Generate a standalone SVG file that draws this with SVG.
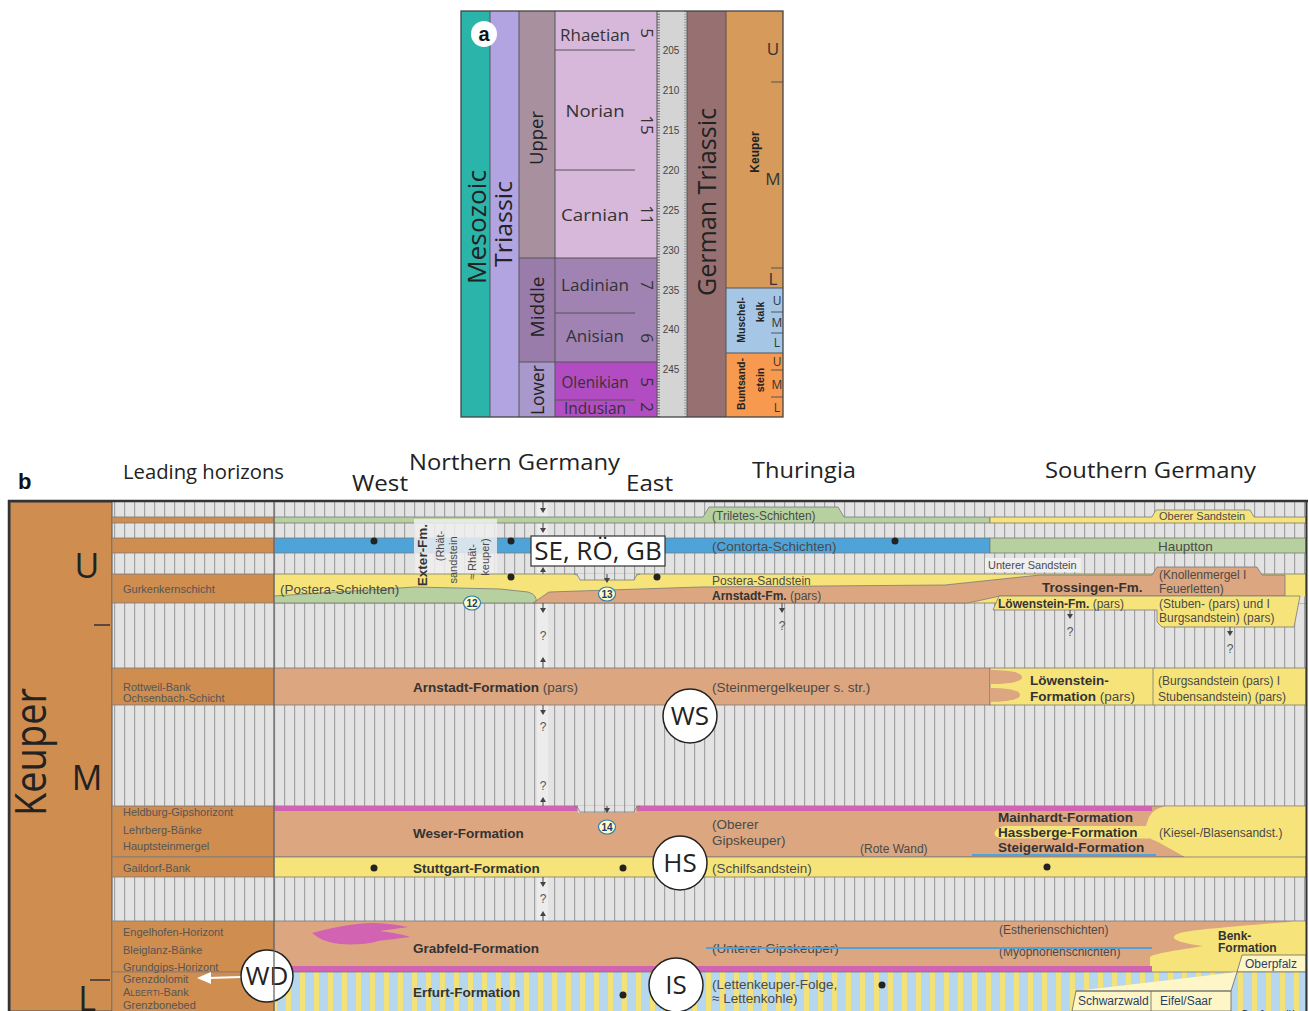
<svg xmlns="http://www.w3.org/2000/svg" width="1309" height="1011" viewBox="0 0 1309 1011">
<defs>
<pattern id="hatch" width="10" height="10" patternUnits="userSpaceOnUse">
<rect width="10" height="10" fill="#e3e3e3"/>
<rect x="4" width="1.2" height="10" fill="#a2a2a2"/>
</pattern>
<pattern id="stripes" width="14" height="10" patternUnits="userSpaceOnUse">
<rect width="14" height="10" fill="#b5d8ef"/>
<rect x="6" width="5" height="10" fill="#f3e27a"/>
</pattern>
</defs>
<style>
.ttl{font-family:"Open Sans","Noto Sans",sans-serif;fill:#222}
.lh{font-family:"Liberation Sans",Arial,sans-serif;font-size:11px;fill:#555}
.f{font-family:"Liberation Sans",Arial,sans-serif;font-size:13.5px;fill:#4a4a4a}
.s{font-size:12px}
.xs{font-size:11px}
.b{font-weight:bold;fill:#333}
.band{stroke:#7a7a7a;stroke-width:0.8}
.yel{fill:#f6e47a}
.brn{fill:#dca680}
.grn{fill:#b7d0a0}
.blu{fill:#4ea4d9}
.pnk{fill:#d263b2}
.org{fill:#cf8d50}
.q{font-family:"Liberation Sans",Arial,sans-serif;font-size:12px;fill:#555;text-anchor:middle}
.circ{fill:#fff;stroke:#222;stroke-width:1.5}
.ct{font-family:"Open Sans","Noto Sans",sans-serif;font-size:26px;fill:#222;text-anchor:middle}
.num{fill:#fffbc4;stroke:#2a80b8;stroke-width:1.2}
.numt{font-family:"Liberation Sans",Arial,sans-serif;font-size:10px;fill:#1a3a6a;text-anchor:middle;font-weight:bold}
.dot{fill:#222}
.arr{fill:#444}
.al{stroke:#444;stroke-width:1}
.sep{stroke:#555;stroke-width:1;fill:none}
.stage{font-family:"Open Sans","Noto Sans",sans-serif;font-size:17px;fill:#333;text-anchor:middle}
.age{font-family:"Liberation Sans",Arial,sans-serif;font-size:10px;fill:#444;text-anchor:middle}
.box{fill:#fff6c8;stroke:#666;stroke-width:0.8}
.boxt{font-family:"Liberation Sans",Arial,sans-serif;font-size:12px;fill:#2a3f66}
</style>
<rect width="1309" height="1011" fill="#ffffff"/>

<!-- ================= PANEL A ================= -->
<g id="panel-a">
<rect x="461" y="11" width="29" height="406" fill="#2bb5aa"/>
<rect x="490" y="11" width="29" height="406" fill="#b2a4e0"/>
<rect x="519" y="11" width="36" height="247" fill="#a8909e"/>
<rect x="519" y="258" width="36" height="104" fill="#9a7cab"/>
<rect x="519" y="362" width="36" height="55" fill="#a898cc"/>
<rect x="555" y="11" width="102" height="247" fill="#d8b8da"/>
<rect x="555" y="258" width="102" height="104" fill="#a083b3"/>
<rect x="555" y="362" width="102" height="55" fill="#b24cc2"/>
<rect x="657" y="11" width="30" height="406" fill="#d4d4d4"/>
<rect x="687" y="11" width="39" height="406" fill="#977171"/>
<rect x="726" y="11" width="57" height="277" fill="#d69a5a"/>
<rect x="726" y="288" width="57" height="65" fill="#a6c6e6"/>
<rect x="726" y="353" width="57" height="64" fill="#f79a50"/>
<line x1="658.5" y1="11" x2="658.5" y2="417" stroke="#777" stroke-width="3" stroke-dasharray="1 1.7"/>
<line x1="685" y1="11" x2="685" y2="417" stroke="#999" stroke-width="2" stroke-dasharray="1 1.7"/>
<g class="sep">
<line x1="490" y1="11" x2="490" y2="417"/>
<line x1="519" y1="11" x2="519" y2="417"/>
<line x1="555" y1="11" x2="555" y2="417"/>
<line x1="657" y1="11" x2="657" y2="417"/>
<line x1="687" y1="11" x2="687" y2="417"/>
<line x1="726" y1="11" x2="726" y2="417"/>
<line x1="519" y1="258" x2="657" y2="258"/>
<line x1="519" y1="362" x2="657" y2="362"/>
<line x1="555" y1="50" x2="635" y2="50"/>
<line x1="555" y1="170" x2="635" y2="170"/>
<line x1="555" y1="313" x2="635" y2="313"/>
<line x1="555" y1="400" x2="635" y2="400"/>
<line x1="726" y1="288" x2="783" y2="288"/>
<line x1="726" y1="353" x2="783" y2="353"/>
<line x1="771" y1="82" x2="783" y2="82"/>
<line x1="771" y1="268" x2="783" y2="268"/>
<line x1="771" y1="312" x2="783" y2="312"/>
<line x1="771" y1="333" x2="783" y2="333"/>
<line x1="771" y1="370" x2="783" y2="370"/>
<line x1="771" y1="397" x2="783" y2="397"/>
</g>
<rect x="461" y="11" width="322" height="406" fill="none" stroke="#444" stroke-width="1.3"/>
<circle cx="484" cy="34" r="13" fill="#fff"/>
<text x="484" y="41" text-anchor="middle" font-family="Liberation Sans, Arial, sans-serif" font-weight="bold" font-size="20" fill="#111">a</text>
<text class="ttl" transform="translate(486,227) rotate(-90)" text-anchor="middle" font-size="25" textLength="114" lengthAdjust="spacingAndGlyphs">Mesozoic</text>
<text class="ttl" transform="translate(512,224) rotate(-90)" text-anchor="middle" font-size="24" textLength="86" lengthAdjust="spacingAndGlyphs">Triassic</text>
<text class="ttl" transform="translate(543,138) rotate(-90)" text-anchor="middle" font-size="19" fill="#333" textLength="54" lengthAdjust="spacingAndGlyphs">Upper</text>
<text class="ttl" transform="translate(544,307) rotate(-90)" text-anchor="middle" font-size="19" fill="#333" textLength="61" lengthAdjust="spacingAndGlyphs">Middle</text>
<text class="ttl" transform="translate(544,390) rotate(-90)" text-anchor="middle" font-size="19" fill="#333" textLength="50" lengthAdjust="spacingAndGlyphs">Lower</text>
<text class="stage" x="595" y="41" textLength="70" lengthAdjust="spacingAndGlyphs">Rhaetian</text>
<text class="stage" x="595" y="117" font-size="18" textLength="59" lengthAdjust="spacingAndGlyphs">Norian</text>
<text class="stage" x="595" y="221" textLength="68" lengthAdjust="spacingAndGlyphs">Carnian</text>
<text class="stage" x="595" y="291" textLength="68" lengthAdjust="spacingAndGlyphs">Ladinian</text>
<text class="stage" x="595" y="342" textLength="58" lengthAdjust="spacingAndGlyphs">Anisian</text>
<text class="stage" x="595" y="388" textLength="67" lengthAdjust="spacingAndGlyphs">Olenikian</text>
<text class="stage" x="595" y="414" textLength="62" lengthAdjust="spacingAndGlyphs">Indusian</text>
<g class="stage" font-size="15">
<text transform="translate(641,33) rotate(90)">5</text>
<text transform="translate(641,125) rotate(90)">15</text>
<text transform="translate(641,215) rotate(90)">11</text>
<text transform="translate(641,285) rotate(90)">7</text>
<text transform="translate(641,338) rotate(90)">6</text>
<text transform="translate(641,382) rotate(90)">5</text>
<text transform="translate(641,407) rotate(90)">2</text>
</g>
<g class="age">
<text x="671" y="54">205</text>
<text x="671" y="94">210</text>
<text x="671" y="134">215</text>
<text x="671" y="174">220</text>
<text x="671" y="214">225</text>
<text x="671" y="254">230</text>
<text x="671" y="294">235</text>
<text x="671" y="333">240</text>
<text x="671" y="373">245</text>
</g>
<text class="ttl" transform="translate(716,202) rotate(-90)" text-anchor="middle" font-size="26" fill="#222" textLength="188" lengthAdjust="spacingAndGlyphs">German Triassic</text>
<text transform="translate(759,152) rotate(-90)" text-anchor="middle" font-family="Liberation Sans, Arial, sans-serif" font-weight="bold" font-size="12" fill="#222">Keuper</text>
<g font-family="Open Sans, Noto Sans, sans-serif" font-size="17" fill="#333" text-anchor="middle">
<text x="773" y="55">U</text>
<text x="773" y="185">M</text>
<text x="773" y="285">L</text>
</g>
<g font-family="Liberation Sans, Arial, sans-serif" font-weight="bold" font-size="10.5" fill="#222" text-anchor="middle">
<text transform="translate(745,320) rotate(-90)">Muschel-</text>
<text transform="translate(764,312) rotate(-90)">kalk</text>
<text transform="translate(745,384) rotate(-90)">Buntsand-</text>
<text transform="translate(764,380) rotate(-90)">stein</text>
</g>
<g font-family="Open Sans, Noto Sans, sans-serif" font-size="12" fill="#333" text-anchor="middle">
<text x="777" y="305">U</text>
<text x="777" y="327">M</text>
<text x="777" y="347">L</text>
<text x="777" y="366">U</text>
<text x="777" y="389">M</text>
<text x="777" y="412">L</text>
</g>
</g>

<!-- ================= PANEL B HEADER ================= -->
<g id="panel-b-header" class="ttl">
<text x="18" y="489" font-family="Liberation Sans, Arial, sans-serif" font-weight="bold" font-size="22" fill="#111">b</text>
<text x="123" y="479" font-size="20" textLength="161" lengthAdjust="spacingAndGlyphs">Leading horizons</text>
<text x="352" y="491" font-size="22" textLength="56" lengthAdjust="spacingAndGlyphs">West</text>
<text x="409" y="470" font-size="22" textLength="211" lengthAdjust="spacingAndGlyphs">Northern Germany</text>
<text x="626" y="491" font-size="22" textLength="47" lengthAdjust="spacingAndGlyphs">East</text>
<text x="752" y="478" font-size="22" textLength="104" lengthAdjust="spacingAndGlyphs">Thuringia</text>
<text x="1045" y="478" font-size="22" textLength="211" lengthAdjust="spacingAndGlyphs">Southern Germany</text>
</g>

<!-- ================= PANEL B BODY ================= -->
<g id="background">
<rect x="112" y="502" width="1194" height="509" fill="url(#hatch)"/>
<rect x="537" y="502" width="11" height="419" fill="#ececec"/>
</g>

<g id="keuper-column">
<rect x="10" y="502" width="102" height="509" class="org" stroke="#555" stroke-width="1"/>
<text class="ttl" transform="translate(46,752) rotate(-90)" text-anchor="middle" font-size="44" textLength="128" lengthAdjust="spacingAndGlyphs">Keuper</text>
<text class="ttl" x="87" y="578" text-anchor="middle" font-size="34">U</text>
<text class="ttl" x="87" y="790" text-anchor="middle" font-size="34">M</text>
<text class="ttl" x="87" y="1011" text-anchor="middle" font-size="34">L</text>
<line x1="94" y1="625" x2="110" y2="625" stroke="#333" stroke-width="1.5"/>
<line x1="90" y1="980" x2="110" y2="980" stroke="#333" stroke-width="1.5"/>
</g>

<g id="leading-horizons">
<g class="org band">
<rect x="112" y="517" width="162" height="6"/>
<rect x="112" y="538" width="162" height="15"/>
<rect x="112" y="574" width="162" height="29"/>
<rect x="112" y="668" width="162" height="37"/>
<rect x="112" y="806" width="162" height="51"/>
<rect x="112" y="857" width="162" height="20"/>
<rect x="112" y="921" width="162" height="51"/>
<rect x="112" y="972" width="162" height="45"/>
</g>
<text class="lh" x="123" y="593">Gurkenkernschicht</text>
<text class="lh" x="123" y="691">Rottweil-Bank</text>
<text class="lh" x="123" y="702">Ochsenbach-Schicht</text>
<text class="lh" x="123" y="816">Heldburg-Gipshorizont</text>
<text class="lh" x="123" y="834">Lehrberg-Bänke</text>
<text class="lh" x="123" y="850">Hauptsteinmergel</text>
<text class="lh" x="123" y="872">Gaildorf-Bank</text>
<text class="lh" x="123" y="936">Engelhofen-Horizont</text>
<text class="lh" x="123" y="954">Bleiglanz-Bänke</text>
<text class="lh" x="123" y="971">Grundgips-Horizont</text>
<text class="lh" x="123" y="983">Grenzdolomit</text>
<text class="lh" x="123" y="996">A<tspan font-size="8.5">LBERTI</tspan>-Bank</text>
<text class="lh" x="123" y="1009">Grenzbonebed</text>
</g>

<g id="rhaet-rows">
<path class="grn band" d="M274,517 H703 L709,507 H838 L844,517 H990 V523 H274 Z"/>
<path class="yel band" d="M990,517 H1152 L1156,510 H1250 L1254,517 H1306 V523 H990 Z"/>
<rect class="blu band" x="274" y="538" width="716" height="15"/>
<rect class="grn band" x="990" y="538" width="316" height="15"/>
<rect x="414" y="519" width="83" height="70" fill="#efefef" opacity="0.85"/>
<text class="f s" x="712" y="520">(Triletes-Schichten)</text>
<text class="f xs" x="1159" y="520">Oberer Sandstein</text>
<text class="f" x="712" y="551">(Contorta-Schichten)</text>
<text class="f" x="1158" y="551">Hauptton</text>
<rect x="985" y="558" width="96" height="14" fill="#efefef"/>
<text class="f xs" x="988" y="569">Unterer Sandstein</text>
</g>

<g id="postera-row">
<rect class="yel band" x="274" y="574" width="1032" height="29"/>
<rect x="578" y="573.5" width="58" height="6.5" fill="url(#hatch)"/>
<path d="M574,574 Q578,574 579,578 L580,580 H634 L635,578 Q636,574 640,574" fill="none" stroke="#7a7a7a" stroke-width="0.8"/>
<path class="grn band" d="M274,596 L415,587 L500,589 L528,592 Q538,595 536,603 H274 Z"/>
<path class="brn band" d="M533,603 L549,592 L700,587 L945,585 L1040,575 H1152 L1157,567 H1257 L1262,575 H1285 V596 H1000 L968,603 Z"/>
<rect x="1296" y="596.5" width="10" height="6.5" fill="url(#hatch)"/>
<path class="yel band" d="M993,610 L999,596 H1300 L1294,627 H1162 L1157,622 V610 Z"/>
<text class="f" x="280" y="594">(Postera-Schichten)</text>
<text class="f b" transform="translate(427,555) rotate(-90)" text-anchor="middle" font-size="12.5">Exter-Fm.</text>
<g class="f xs" text-anchor="middle">
<text transform="translate(444,546) rotate(-90)">(Rhät-</text>
<text transform="translate(457,560) rotate(-90)">sandstein</text>
<text transform="translate(476,562) rotate(-90)">≈ Rhät-</text>
<text transform="translate(489,557) rotate(-90)">keuper)</text>
</g>
<text class="f s" x="712" y="585">Postera-Sandstein</text>
<text class="f s" x="712" y="600"><tspan class="b">Arnstadt-Fm.</tspan> (pars)</text>
<text class="f b" x="1042" y="592" font-size="14">Trossingen-Fm.</text>
<text class="f s" x="1159" y="579">(Knollenmergel I</text>
<text class="f s" x="1159" y="593">Feuerletten)</text>
<text class="f s" x="998" y="608"><tspan class="b">Löwenstein-Fm.</tspan> (pars)</text>
<text class="f s" x="1159" y="608">(Stuben- (pars) und I</text>
<text class="f s" x="1159" y="622">Burgsandstein) (pars)</text>
</g>

<g id="arnstadt-row">
<rect class="brn band" x="274" y="668" width="716" height="37"/>
<rect class="yel band" x="990" y="668" width="316" height="37"/>
<path class="brn" d="M990,670 C1008,670 1022,672 1022,677 C1022,682 1008,684 990,684 Z"/>
<path class="brn" d="M990,688 C1008,688 1020,690 1020,695 C1020,700 1005,702 990,702 Z"/>
<line x1="1153" y1="668" x2="1153" y2="705" stroke="#7a7a7a" stroke-width="0.8"/>
<text class="f" x="413" y="692"><tspan class="b">Arnstadt-Formation</tspan> (pars)</text>
<text class="f" x="712" y="692">(Steinmergelkeuper s. str.)</text>
<text class="f b" x="1030" y="685">Löwenstein-</text>
<text class="f" x="1030" y="701"><tspan class="b">Formation</tspan> (pars)</text>
<text class="f s" x="1158" y="685">(Burgsandstein (pars) I</text>
<text class="f s" x="1158" y="701">Stubensandstein) (pars)</text>
</g>

<g id="weser-row">
<rect class="brn band" x="274" y="806" width="1032" height="51"/>
<rect class="pnk" x="274" y="806" width="303" height="5"/>
<rect class="pnk" x="637" y="806" width="515" height="5"/>
<rect x="578" y="805.5" width="58" height="7" fill="url(#hatch)"/>
<path d="M574,806 Q578,806 579,810 L580,812 H634 L635,810 Q636,806 640,806" fill="none" stroke="#7a7a7a" stroke-width="0.8"/>
<path class="yel" d="M1165,806.5 H1306 V857 H1185 L1158,842 L1150,838.5 H1002 Q993,837 995,832 Q997,827 1005,826 H1146 L1149,817 Q1154,808 1165,806.5 Z"/>
<line x1="972" y1="855" x2="1156" y2="855" stroke="#4ea4d9" stroke-width="2"/>
<text class="f b" x="413" y="838">Weser-Formation</text>
<text class="f" x="712" y="829">(Oberer</text>
<text class="f" x="712" y="845">Gipskeuper)</text>
<text class="f s" x="860" y="853">(Rote Wand)</text>
<text class="f b" x="998" y="822">Mainhardt-Formation</text>
<text class="f b" x="998" y="837">Hassberge-Formation</text>
<text class="f b" x="998" y="852">Steigerwald-Formation</text>
<text class="f s" x="1159" y="837">(Kiesel-/Blasensandst.)</text>
</g>

<g id="stuttgart-row">
<rect class="yel band" x="274" y="857" width="1032" height="20"/>
<text class="f b" x="413" y="873">Stuttgart-Formation</text>
<text class="f" x="712" y="873">(Schilfsandstein)</text>
</g>

<g id="grabfeld-row">
<rect class="brn band" x="274" y="921" width="1032" height="51"/>
<path class="yel" d="M1306,921.5 H1294 C1240,926 1190,930 1180,933 C1168,937 1172,942 1203,946 C1180,950 1155,953 1150,957 V972 H1306 Z"/>
<path class="pnk" d="M312,933 C330,928 350,924 370,923 C385,923 398,925 408,927 C395,929 385,930 380,931 C395,933 405,935 410,937 C395,939 385,940 378,941 C370,944 355,945 340,944 C325,942 318,938 312,933 Z"/>
<rect class="pnk" x="274" y="966" width="878" height="6"/>
<text class="f b" x="413" y="953">Grabfeld-Formation</text>
<text class="f" x="712" y="953">(Unterer Gipskeuper)</text>
<text class="f s" x="999" y="934">(Estherienschichten)</text>
<text class="f s" x="999" y="956">(Myophorienschichten)</text>
<line x1="706" y1="948" x2="1152" y2="948" stroke="#4ea4d9" stroke-width="2"/>
<text class="f b s" x="1218" y="940">Benk-</text>
<text class="f b s" x="1218" y="952">Formation</text>
<path class="box" d="M1242,955 H1306 V972 H1237 Z"/>
<text class="boxt" x="1245" y="968">Oberpfalz</text>
</g>

<g id="erfurt-row">
<rect x="274" y="972" width="1032" height="45" fill="url(#stripes)" stroke="#7a7a7a" stroke-width="0.8"/>
<path class="box" d="M1076,991 H1231 L1237,972 M1231,991 V1011 H1072 L1076,991 Z"/>
<line x1="1151" y1="991" x2="1151" y2="1011" stroke="#666" stroke-width="0.8"/>
<text class="boxt" x="1078" y="1005">Schwarzwald</text>
<text class="boxt" x="1160" y="1005">Eifel/Saar</text>
<text class="boxt" x="1240" y="1019">Grafenwöhr</text>
<text class="f b" x="413" y="997">Erfurt-Formation</text>
<text class="f" x="712" y="989">(Lettenkeuper-Folge,</text>
<text class="f" x="712" y="1003">≈ Lettenkohle)</text>
</g>

<g id="markers">
<g class="al">
<line x1="543" y1="502" x2="543" y2="510"/>
<line x1="543" y1="523" x2="543" y2="528"/>
<line x1="543" y1="572" x2="543" y2="574"/>
<line x1="543" y1="603" x2="543" y2="608"/>
<line x1="543" y1="662" x2="543" y2="668"/>
<line x1="543" y1="705" x2="543" y2="710"/>
<line x1="543" y1="802" x2="543" y2="806"/>
<line x1="543" y1="877" x2="543" y2="882"/>
<line x1="543" y1="916" x2="543" y2="921"/>
<line x1="607" y1="574" x2="607" y2="578"/>
<line x1="607" y1="806" x2="607" y2="808"/>
<line x1="782" y1="603" x2="782" y2="608"/>
<line x1="1070" y1="610" x2="1070" y2="614"/>
<line x1="1230" y1="627" x2="1230" y2="631"/>
</g>
<g class="arr">
<polygon points="540,508 546,508 543,513"/>
<polygon points="540,528 546,528 543,533"/>
<polygon points="540,572 546,572 543,567"/>
<polygon points="540,608 546,608 543,613"/>
<polygon points="540,662 546,662 543,657"/>
<polygon points="540,710 546,710 543,715"/>
<polygon points="540,802 546,802 543,797"/>
<polygon points="540,882 546,882 543,887"/>
<polygon points="540,916 546,916 543,911"/>
<polygon points="604,578 610,578 607,583"/>
<polygon points="604,808 610,808 607,813"/>
<polygon points="779,608 785,608 782,613"/>
<polygon points="1067,614 1073,614 1070,619"/>
<polygon points="1227,631 1233,631 1230,636"/>
</g>
<text class="q" x="543" y="640">?</text>
<text class="q" x="543" y="731">?</text>
<text class="q" x="543" y="790">?</text>
<text class="q" x="543" y="903">?</text>
<text class="q" x="782" y="630">?</text>
<text class="q" x="1070" y="636">?</text>
<text class="q" x="1230" y="653">?</text>
</g>

<g id="dots">
<circle class="dot" cx="374" cy="541" r="3.5"/>
<circle class="dot" cx="511" cy="541" r="3.5"/>
<circle class="dot" cx="895" cy="541" r="3.5"/>
<circle class="dot" cx="511" cy="577" r="3.5"/>
<circle class="dot" cx="657" cy="577" r="3.5"/>
<circle class="dot" cx="374" cy="868" r="3.5"/>
<circle class="dot" cx="623" cy="868" r="3.5"/>
<circle class="dot" cx="1047" cy="867" r="3.5"/>
<circle class="dot" cx="623" cy="995" r="3.5"/>
<circle class="dot" cx="882" cy="985" r="3.5"/>
</g>

<g id="numbers">
<ellipse class="num" cx="472" cy="603" rx="8.5" ry="7"/>
<text class="numt" x="472" y="607">12</text>
<ellipse class="num" cx="607" cy="594" rx="8.5" ry="7"/>
<text class="numt" x="607" y="598">13</text>
<ellipse class="num" cx="607" cy="827" rx="8.5" ry="7"/>
<text class="numt" x="607" y="831">14</text>
</g>

<g id="node-se-ro-gb">
<rect x="531" y="536" width="134" height="30" fill="#fff" stroke="#333" stroke-width="1.2"/>
<text class="ct" x="598" y="560" font-size="23">SE, RÖ, GB</text>
</g>
<g id="node-ws">
<circle class="circ" cx="690" cy="716" r="27"/>
<text class="ct" x="690" y="725">WS</text>
</g>
<g id="node-hs">
<circle class="circ" cx="680" cy="863" r="27"/>
<text class="ct" x="680" y="872">HS</text>
</g>
<g id="node-is">
<circle class="circ" cx="676" cy="985" r="27"/>
<text class="ct" x="676" y="994">IS</text>
</g>
<g id="node-wd">
<line x1="241" y1="977" x2="208" y2="978" stroke="#fff" stroke-width="2.2"/>
<polygon points="197,978 211,972 211,984" fill="#fff"/>
<circle class="circ" cx="267" cy="976" r="26"/>
<text class="ct" x="267" y="985">WD</text>
</g>

<g id="frame">
<line x1="274" y1="502" x2="274" y2="1011" stroke="#6a6a6a" stroke-width="1.3"/>
<line x1="8" y1="501" x2="1308" y2="501" stroke="#333" stroke-width="2.5"/>
<line x1="9" y1="500" x2="9" y2="1011" stroke="#333" stroke-width="2.5"/>
<line x1="1306.5" y1="500" x2="1306.5" y2="1011" stroke="#333" stroke-width="2"/>
</g>
</svg>
